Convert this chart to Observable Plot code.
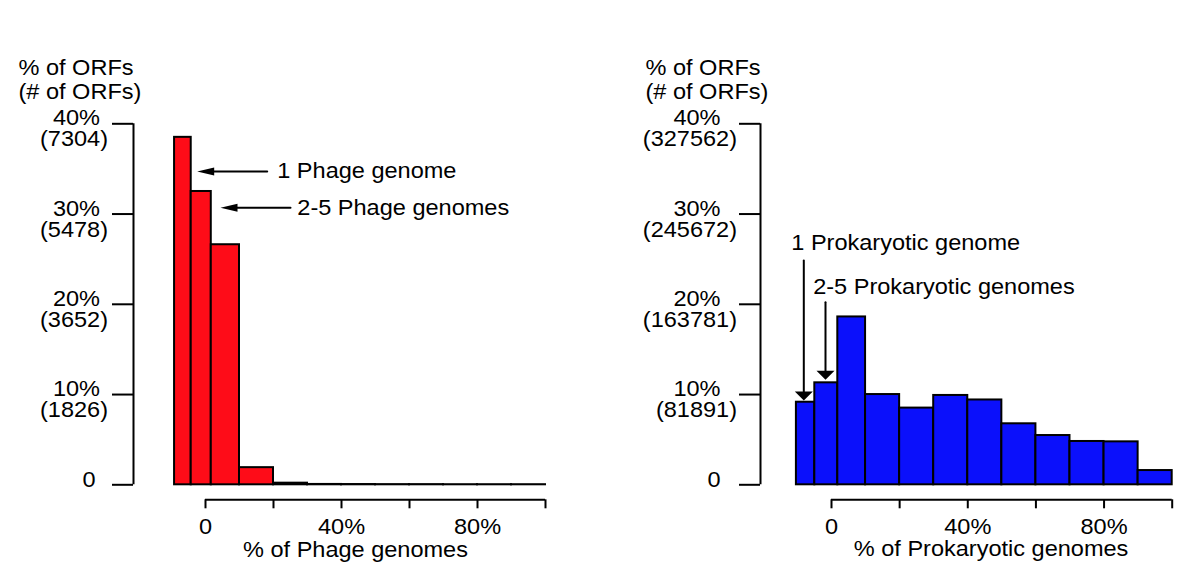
<!DOCTYPE html>
<html><head><meta charset="utf-8">
<script src="https://cdn.jsdelivr.net/npm/d3@7"></script>
<script src="https://cdn.jsdelivr.net/npm/@observablehq/plot@0.6"></script>
<style>
html,body{margin:0;padding:0;background:#fff;}
#wrap{display:flex;width:1200px;height:587px;}
</style></head><body><div id="wrap"></div>
<script>
// ---- data ----
const binLabels = ["1 genome","2-5 genomes",">5 genomes, <10%","10-20%","20-30%","30-40%","40-50%","50-60%","60-70%","70-80%","80-90%","90-100%"];
const phageBinStart = [-9.1,-4.2,1.7,10,20,30,40,50,60,70,80,90];
const phageBinEnd   = [-4.2,1.7,10,20,30,40,50,60,70,80,90,100];
const phagePct      = [38.5,32.5,26.6,1.9,0.18,0.04,0.03,0.02,0.02,0.01,0.01,0.01];
const prokBinStart  = [-10.3,-4.9,1.85,10,20,30,40,50,60,70,80,90];
const prokBinEnd    = [-4.9,1.85,10,20,30,40,50,60,70,80,90,100];
const prokPct       = [9.15,11.3,18.6,10.0,8.5,9.9,9.4,6.76,5.46,4.8,4.76,1.58];
const yTicks = [0,10,20,30,40];
const yPctLabels = ["0","10%","20%","30%","40%"];
const phageCountLabels = ["","(1826)","(3652)","(5478)","(7304)"];
const prokCountLabels  = ["","(81891)","(163781)","(245672)","(327562)"];
const xTicks = [0,20,40,60,80,100];
const xTickLabels = ["0","","40%","","80%",""];
const yHeader = ["% of ORFs","(# of ORFs)"];
const phageNotes = ["1 Phage genome","2-5 Phage genomes"];
const prokNotes  = ["1 Prokaryotic genome","2-5 Prokaryotic genomes"];

const FONT = '"Liberation Sans", Arial, Helvetica, sans-serif';
const TEXT_STRETCH = 1.07;

function panel(c) {
  const bins = c.pct.map((v,i)=>({label: binLabels[i], x1: c.binStart[i], x2: c.binEnd[i], v}));
  const yRows = yTicks.map((t,i)=>({t, pct: yPctLabels[i], n: c.counts[i]}));
  const triangle = {draw(ctx, l) { ctx.moveTo(0,0); ctx.lineTo(-c.head.w, l); ctx.lineTo(c.head.w, l); ctx.closePath(); }};
  const notes = c.notes.map((label,i)=>({label, ...c.notePos[i]}));
  return Plot.plot({
    width: 600, height: 587,
    marginLeft: c.marginLeft, marginRight: c.marginRight, marginTop: 123.3, marginBottom: 102.7,
    x: {domain: [0,100]}, y: {domain: [0,40]},
    style: {fontFamily: FONT, fontSize: "22px", color: "black", background: "white", overflow: "visible"},
    marks: [
      Plot.rect(bins, {x1: "x1", x2: "x2", y1: 0, y2: "v", fill: c.fill, stroke: "black", strokeWidth: 2}),
      Plot.ruleX([xTicks[0]], {y1: yTicks[0], y2: yTicks[yTicks.length-1], dx: c.yAxisDx, strokeWidth: 2}),
      Plot.axisY({ticks: yTicks, tickSize: 21, dx: c.yAxisDx, tickFormat: () => "", label: null, strokeWidth: 2}),
      Plot.ruleY([yTicks[0]], {x1: xTicks[0], x2: xTicks[xTicks.length-1], dy: 15, strokeWidth: 2}),
      Plot.axisX({ticks: xTicks, tickFormat: d => xTickLabels[xTicks.indexOf(d)], tickSize: 9, tickPadding: 10, dy: 15, label: null, strokeWidth: 2, fontSize: 22}),
      Plot.text(yRows.filter(d=>d.t!==0), {y: "t", text: "pct", frameAnchor: "left", textAnchor: "end", dx: c.pctDx, dy: -5.5, fontSize: 22}),
      Plot.text(yRows.filter(d=>d.t===0), {y: "t", text: "pct", frameAnchor: "left", textAnchor: "end", dx: c.zeroDx, dy: -4.5, fontSize: 22}),
      Plot.text(yRows, {y: "t", text: "n", frameAnchor: "left", textAnchor: "end", dx: c.countDx, dy: 15.5, fontSize: 22}),
      Plot.text([yHeader[0]], {text: d=>d, frameAnchor: "top-left", textAnchor: "start", dx: c.headerDx, dy: -64.3, fontSize: 22}),
      Plot.text([yHeader[1]], {text: d=>d, frameAnchor: "top-left", textAnchor: "start", dx: c.headerDx, dy: -40.8, fontSize: 22}),
      Plot.text([c.xTitle], {text: d=>d, frameAnchor: "bottom", lineAnchor: "middle", dx: c.titleDx, dy: c.titleDy, fontSize: 22}),
      Plot.arrow(c.arrows, {x1: "x1", y1: "y1", x2: "x2", y2: "y2", headLength: 0, insetEnd: c.head.l - 1, strokeWidth: 2}),
      Plot.vector(c.arrows, {x: "x2", y: "y2", length: c.head.l, rotate: c.head.rotate, anchor: "start", shape: triangle, fill: "black", stroke: "none"}),
      Plot.text(notes, {x: "x", y: "y", text: "label", textAnchor: "start", fontSize: 22})
    ]
  });
}

const left = panel({
  binStart: phageBinStart, binEnd: phageBinEnd, pct: phagePct, fill: "#fe0c18",
  counts: phageCountLabels, xTitle: "% of Phage genomes",
  marginLeft: 205, marginRight: 55, yAxisDx: -72,
  pctDx: -105.5, zeroDx: -110, countDx: -97.5, headerDx: -187,
  titleDx: -20, titleDy: 65.2,
  arrows: [{x1: 18.15, y1: 34.72, x2: -2.44, y2: 34.72}, {x1: 25.0, y1: 30.69, x2: 4.41, y2: 30.69}],
  head: {l: 17, w: 4, rotate: -90},
  notes: phageNotes, notePos: [{x: 21.1, y: 34.72}, {x: 27.0, y: 30.69}]
});
const right = panel({
  binStart: prokBinStart, binEnd: prokBinEnd, pct: prokPct, fill: "#0b10fb",
  counts: prokCountLabels, xTitle: "% of Prokaryotic genomes",
  marginLeft: 231, marginRight: 28.3, yAxisDx: -71,
  pctDx: -111, zeroDx: -111, countDx: -94.5, headerDx: -186,
  titleDx: -10.8, titleDy: 64.4,
  arrows: [{x1: -8.13, y1: 24.85, x2: -8.13, y2: 9.34}, {x1: -1.76, y1: 20.23, x2: -1.76, y2: 11.63}],
  head: {l: 9, w: 9, rotate: 180},
  notes: prokNotes, notePos: [{x: -11.8, y: 26.77}, {x: -5.37, y: 21.9}]
});
// the reference's lettering is slightly wider than Arial; stretch each text about its anchor
for (const svg of [left, right]) {
  svg.querySelectorAll("text").forEach(t => {
    const x = +t.getAttribute("x") || 0;
    const tr = t.getAttribute("transform") || "";
    t.setAttribute("transform", `${tr} translate(${x},0) scale(${TEXT_STRETCH},1) translate(${-x},0)`);
  });
}
document.getElementById("wrap").append(left, right);
</script></body></html>
